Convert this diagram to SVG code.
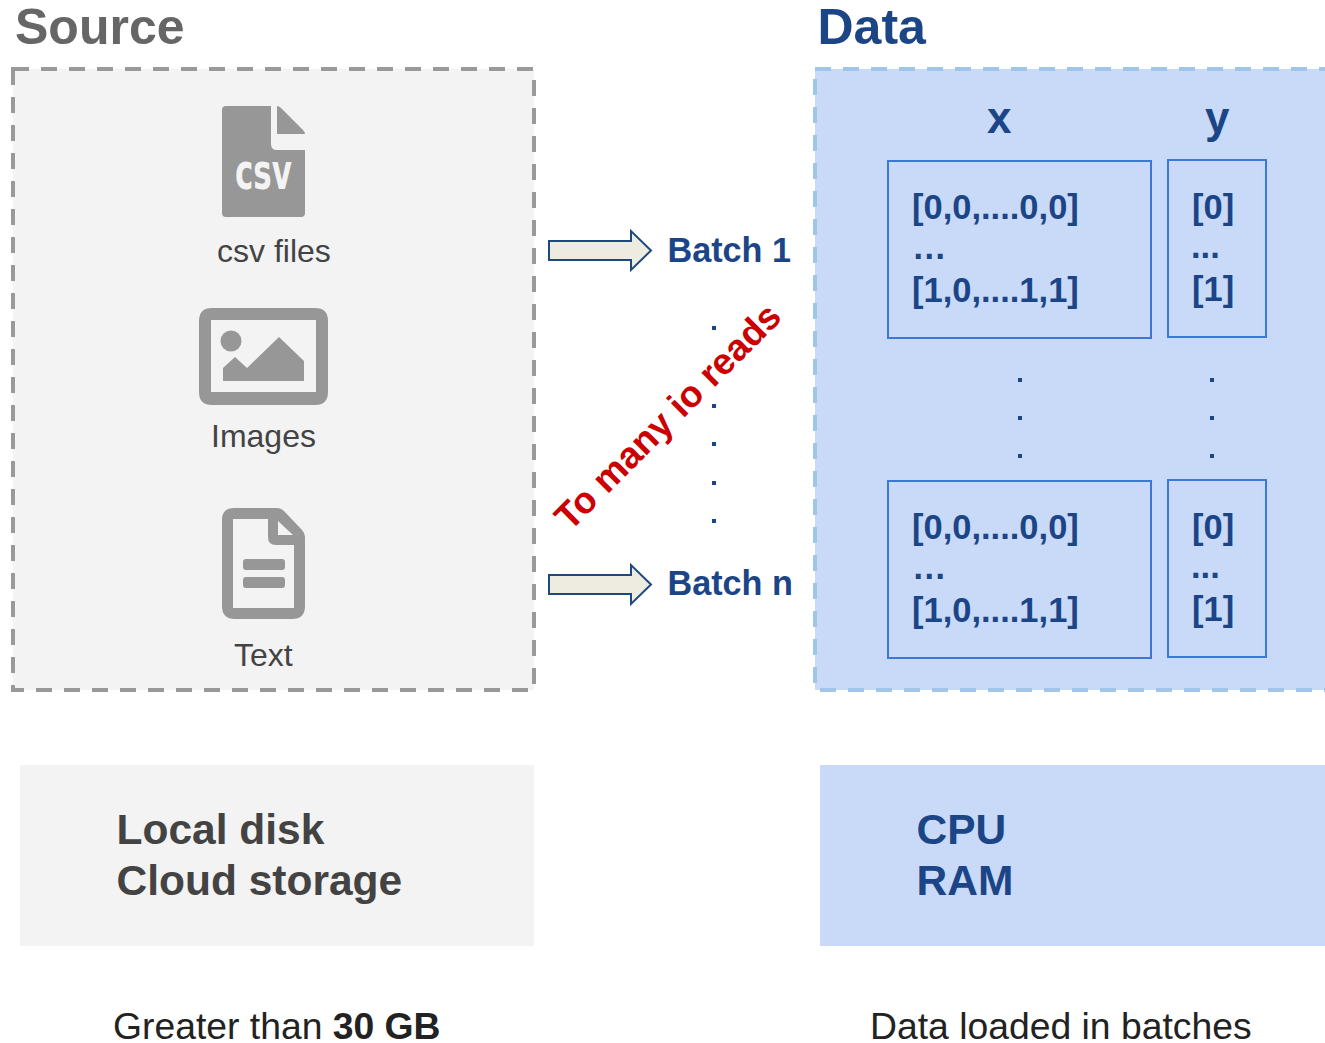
<svg xmlns="http://www.w3.org/2000/svg" width="1325" height="1043" viewBox="0 0 1325 1043">
<style>
text{font-family:"Liberation Sans",Arial,sans-serif}
.h{font-size:50px;font-weight:700}
.lab{font-size:32px;fill:#434343}
.blue{fill:#1c4587;font-weight:700}
.b{font-size:34.200px}
.m{font-size:34.500px}
.st{font-size:42.500px;font-weight:700}
.cap{font-size:37.300px;fill:#222}
.ic{fill:#979797}
.cell{fill:none;stroke:#3c78d8;stroke-width:2}
.arr{fill:#eeece1;stroke:#1f497d;stroke-width:2}
.dot{fill:#1c4587}
</style>
<g id="source-title"><text class="h" x="15" y="44" fill="#666">Source</text></g>
<g id="data-title"><text class="h" x="817.500" y="44" fill="#1c4587">Data</text></g>
<g id="source-box"><rect x="13" y="69" width="521" height="621" fill="#f3f3f3" stroke="#999" stroke-width="4" stroke-dasharray="16 12"/></g>
<g id="data-box"><rect x="815" y="69" width="540" height="621" fill="#c9daf8" stroke="#9fc5e8" stroke-width="4" stroke-dasharray="16 12"/></g>
<g id="csv-node">
<path class="ic" d="M226 106H271V144Q271 150 277 150H305V213Q305 217 301 217H226Q222 217 222 213V110Q222 106 226 106Z"/>
<path class="ic" d="M277 106Q279 106 281 108L303 130Q305 132 305 134H277Z"/>
<text x="235" y="189" font-size="49" font-weight="700" fill="#f3f3f3" textLength="57" lengthAdjust="spacingAndGlyphs" style="font-family:'DejaVu Sans',sans-serif">csv</text>
<text class="lab" x="217" y="262">csv files</text>
</g>
<g id="images-node">
<path class="ic" fill-rule="evenodd" d="M212 308H315Q328 308 328 321V392Q328 405 315 405H212Q199 405 199 392V321Q199 308 212 308ZM211 320V392H316V320Z"/>
<circle class="ic" cx="231" cy="341" r="10.500"/>
<path class="ic" d="M223 381V368L235 357L247 368L279 337L304 361V381Z"/>
<text class="lab" x="211" y="447">Images</text>
</g>
<g id="text-node">
<path class="ic" fill-rule="evenodd" d="M234 508H277Q281 508 284 511L302 530Q305 533 305 537V606Q305 619 292 619H235Q222 619 222 606V520Q222 508 234 508ZM233 519V608H294V545H276Q268 545 268 537V519ZM278 521V535H293Z"/>
<rect class="ic" x="243" y="559" width="42" height="11" rx="3"/>
<rect class="ic" x="243" y="577" width="42" height="11" rx="3"/>
<text class="lab" x="234" y="666">Text</text>
</g>
<g id="connectors">
<path class="arr" d="M549 241H631V231L651 250.500L631 270V260H549Z"/>
<path class="arr" d="M549 575H631V565L651 584.500L631 604V594H549Z"/>
</g>
<g id="batch-1"><text class="blue b" x="667.500" y="262">Batch 1</text></g>
<g id="batch-n"><text class="blue b" x="667.500" y="595">Batch n</text></g>
<g id="dots">
<rect class="dot" x="712" y="326" width="4" height="4"/>
<rect class="dot" x="712" y="404" width="4" height="4"/>
<rect class="dot" x="712" y="442" width="4" height="4"/>
<rect class="dot" x="712" y="481" width="4" height="4"/>
<rect class="dot" x="712" y="519" width="4" height="4"/>
<rect class="dot" x="1018" y="378" width="4" height="4"/>
<rect class="dot" x="1018" y="416" width="4" height="4"/>
<rect class="dot" x="1018" y="454" width="4" height="4"/>
<rect class="dot" x="1210" y="378" width="4" height="4"/>
<rect class="dot" x="1210" y="416" width="4" height="4"/>
<rect class="dot" x="1210" y="454" width="4" height="4"/>
</g>
<g id="warning"><text transform="translate(570 532) rotate(-45)" font-size="37" font-weight="700" fill="#c00">To many io reads</text></g>
<g id="col-x"><text class="blue" x="987" y="133" font-size="44">x</text></g>
<g id="col-y"><text class="blue" x="1205" y="133" font-size="44">y</text></g>
<g id="x-top"><rect class="cell" x="888" y="161" width="263" height="177"/>
<text class="blue m" x="912" y="219">[0,0,....0,0]</text><text class="blue m" x="912" y="259">…</text><text class="blue m" x="912" y="302">[1,0,....1,1]</text></g>
<g id="y-top"><rect class="cell" x="1168" y="160" width="98" height="177"/>
<text class="blue m" x="1192" y="218.500">[0]</text><text class="blue m" x="1191" y="258">...</text><text class="blue m" x="1192" y="301">[1]</text></g>
<g id="x-bottom"><rect class="cell" x="888" y="481" width="263" height="177"/>
<text class="blue m" x="912" y="539">[0,0,....0,0]</text><text class="blue m" x="912" y="579">…</text><text class="blue m" x="912" y="622">[1,0,....1,1]</text></g>
<g id="y-bottom"><rect class="cell" x="1168" y="480" width="98" height="177"/>
<text class="blue m" x="1192" y="538.500">[0]</text><text class="blue m" x="1191" y="578">...</text><text class="blue m" x="1192" y="621">[1]</text></g>
<g id="storage"><rect x="20" y="765" width="514" height="181" fill="#f3f3f3"/>
<text class="st" x="116.500" y="844" fill="#434343">Local disk</text><text class="st" x="116.500" y="895" fill="#434343">Cloud storage</text></g>
<g id="memory"><rect x="820" y="765" width="505" height="181" fill="#c9daf8"/>
<text class="st" x="916.500" y="844" fill="#1c4587">CPU</text><text class="st" x="916.500" y="895" fill="#1c4587">RAM</text></g>
<g id="caption-left"><text class="cap" x="113" y="1039">Greater than <tspan font-weight="700">30 GB</tspan></text></g>
<g id="caption-right"><text class="cap" x="870" y="1039">Data loaded in batches</text></g>
</svg>
